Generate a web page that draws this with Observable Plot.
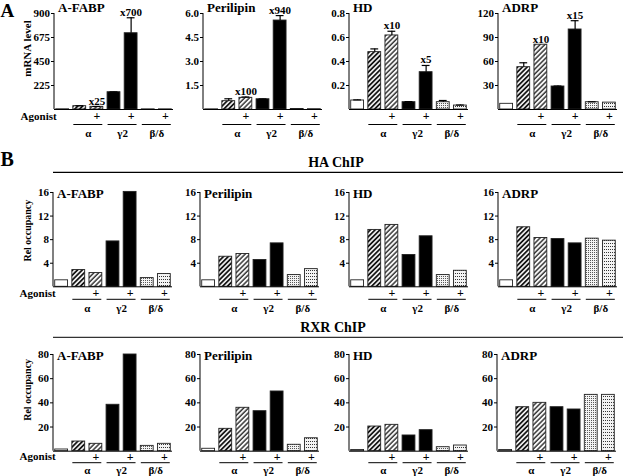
<!DOCTYPE html>
<html><head><meta charset="utf-8">
<script src="https://cdn.jsdelivr.net/npm/d3@7"></script>
<script src="https://cdn.jsdelivr.net/npm/@observablehq/plot@0.6"></script>
<style>
body{margin:0;background:white;}
#fig{position:relative;width:624px;height:476px;overflow:hidden;background:white;}
#fig svg{position:absolute;}
</style></head><body><div id="fig"></div>
<script>
// ---------- data ----------
const genes = ["A-FABP", "Perilipin", "HD", "ADRP"];
const bars = ["ctrl", "α", "α+", "γ2", "γ2+", "β/δ", "β/δ+"];
const agonist = ["", "", "+", "", "+", "", "+"];
const fills = ["ctrl", "hatch1", "hatch2", "black", "black", "dots1", "dots2"];
const groups = ["α", "γ2", "β/δ"];
const groupFirst = ["α", "γ2", "β/δ"];
const groupSecond = ["α+", "γ2+", "β/δ+"];
const panelLetters = ["A", "B"];
const rowTitles = ["HA ChIP", "RXR ChIP"];

// mRNA level (panel A)
const mrna = [
  [2, 31, 25, 162, 715, 1.5, 1.5],
  [0.01, 0.52, 0.73, 0.64, 5.56, 0.03, 0.02],
  [0.075, 0.478, 0.617, 0.061, 0.311, 0.061, 0.033],
  [7.1, 52.9, 81, 28.75, 100, 9.1, 8.6]
];
const mrnaErr = [
  [2, 35, 28, 165, 860, 1.5, 1.5],
  [0.01, 0.67, 0.78, 0.66, 5.87, 0.03, 0.02],
  [0.08, 0.505, 0.652, 0.066, 0.367, 0.075, 0.037],
  [7.1, 58.4, 81, 29.3, 111, 9.6, 8.6]
];
const foldLabels = [["x25", "x700"], ["x100", "x940"], ["x10", "x5"], ["x10", "x15"]];
const foldBars = ["α+", "γ2+"];
const mrnaMax = [900, 6, 0.8, 120];
const mrnaTicks = [[225, 450, 675, 900], [1.5, 3.0, 4.5, 6.0], [0.2, 0.4, 0.6, 0.8], [30, 60, 90, 120]];
const mrnaFormat = ["d", ".1f", ".1f", "d"];

// ChIP (panel B)
const haChip = [
  [1.1, 2.84, 2.33, 7.7, 16.1, 1.48, 2.16],
  [1.1, 5.1, 5.56, 4.54, 7.37, 1.99, 3.0],
  [1.1, 9.65, 10.5, 5.4, 8.57, 1.99, 2.72],
  [1.1, 10.1, 8.28, 8.1, 7.37, 8.17, 7.83]
];
const rxrChip = [
  [1.4, 8.0, 6.1, 38.4, 80, 4.4, 6.1],
  [2, 18.5, 35.9, 33.1, 49.4, 5.3, 10.7],
  [1, 20.4, 21.8, 13, 17.4, 3.3, 4.7],
  [1, 36.4, 40, 36.4, 34.5, 46.6, 46.6]
];
const haTicks = [4, 8, 12, 16];
const rxrTicks = [20, 40, 60, 80];

// ---------- drawing ----------
const fig = document.getElementById("fig");
const FONT = "'Liberation Serif','Times New Roman',serif";
let chartId = 0;

function patternDefs(k) {
  return () => {
    const d = d3.create("svg:defs");
    const hatch = (id, color, w) => {
      const p = d.append("pattern").attr("id", `p${k}-${id}`).attr("patternUnits", "userSpaceOnUse")
        .attr("width", 3.4).attr("height", 3.4).attr("patternTransform", "rotate(45)");
      p.append("rect").attr("width", 3.4).attr("height", 3.4).attr("fill", "white");
      p.append("line").attr("x1", 1).attr("x2", 1).attr("y1", 0).attr("y2", 3.4).attr("stroke", color).attr("stroke-width", w);
    };
    hatch("hatch1", "black", 1.7);
    hatch("hatch2", "#333", 1.5);
    const dots = (id, w, h, c) => {
      const p = d.append("pattern").attr("id", `p${k}-${id}`).attr("patternUnits", "userSpaceOnUse")
        .attr("width", w).attr("height", h);
      p.append("rect").attr("width", w).attr("height", h).attr("fill", "#f4f4f4");
      p.append("rect").attr("width", 1).attr("height", 1).attr("fill", c);
    };
    dots("dots1", 2, 2, "#555");
    dots("dots2", 2, 3, "#333");
    const s = d.append("pattern").attr("id", `p${k}-black`).attr("patternUnits", "userSpaceOnUse").attr("width", 4).attr("height", 4);
    s.append("rect").attr("width", 4).attr("height", 4).attr("fill", "black");
    const c = d.append("pattern").attr("id", `p${k}-ctrl`).attr("patternUnits", "userSpaceOnUse").attr("width", 4).attr("height", 4);
    c.append("rect").attr("width", 4).attr("height", 4).attr("fill", "white");
    return d.node();
  };
}

function panel(o) {
  const k = chartId++;
  const ML = 54, MR = 4, MT = 18, MB = 32;
  const innerW = 119;
  const innerH = o.baseY - o.topY;
  const step = innerW / (bars.length - 0.25 + 0.2);
  const data = bars.map((b, i) => ({
    bar: b, value: o.values[i], err: o.errs ? o.errs[i] : o.values[i],
    fill: `url(#p${k}-${fills[i]})`, agonist: agonist[i]
  }));
  const grp = groups.map((g, i) => ({group: g, b1: groupFirst[i], b2: groupSecond[i]}));
  const folds = o.folds ? o.folds.map((t, i) => {
    const d = data.find(e => e.bar === foldBars[i]);
    return {bar: foldBars[i], y: Math.max(d.value, d.err), label: t};
  }) : [];
  const marks = [
    patternDefs(k),
    Plot.barY(data, {x: "bar", y: "value", fill: "fill", stroke: "#222", strokeWidth: 0.9}),
    Plot.ruleX(data.filter(d => d.err > d.value), {x: "bar", y1: "value", y2: "err", stroke: "black", strokeWidth: 1.2}),
    Plot.tickY(data.filter(d => d.err > d.value), {x: "bar", y: "err", stroke: "black", strokeWidth: 1.2, insetLeft: 2.5, insetRight: 2.5}),
    Plot.ruleY([0], {stroke: "black", strokeWidth: 1}),
    (index, scales, values, dim) => d3.create("svg:line")
      .attr("x1", dim.marginLeft).attr("x2", dim.marginLeft)
      .attr("y1", scales.y(0)).attr("y2", scales.y(o.yMax))
      .attr("stroke", "black").attr("stroke-width", 1).node(),
    Plot.text([o.gene], {frameAnchor: "top-left", dx: 3.5, dy: o.titleDy, textAnchor: "start", lineAnchor: "bottom", fontSize: 13, fill: "black"}),
    Plot.text(folds, {x: "bar", y: "y", text: "label", dy: -2, lineAnchor: "bottom", fontSize: 11, fill: "black"}),
    Plot.text(data.filter(d => d.agonist), {x: "bar", text: "agonist", frameAnchor: "bottom", dy: o.plusDy, lineAnchor: "middle", fontSize: 12, fill: "black"}),
    Plot.ruleY(grp, {x1: "b1", x2: "b2", y: () => 0, dy: o.lineDy, stroke: "black", strokeWidth: 1, insetLeft: 0.5, insetRight: 0.5}),
    Plot.text(grp, {x: "b2", text: "group", frameAnchor: "bottom", dx: -step / 2, dy: o.groupDy, lineAnchor: "middle", fontSize: 11, fill: "black"})
  ];
  if (o.first) {
    marks.push(Plot.text(["Agonist"], {x: () => "ctrl", frameAnchor: "bottom", dx: -6, dy: o.plusDy, textAnchor: "end", lineAnchor: "middle", fontSize: 11, fill: "black"}));
    marks.push(Plot.text([o.ylabel], {frameAnchor: "left", rotate: -90, dx: o.ylabelDx, dy: o.ylabelDy, textAnchor: "middle", lineAnchor: "middle", fontSize: o.ylabelSize, fill: "black"}));
  }
  const svg = Plot.plot({
    width: ML + innerW + MR,
    height: MT + innerH + MB,
    marginLeft: ML, marginRight: MR, marginTop: MT, marginBottom: MB,
    style: `position:absolute;left:${o.axisX - ML}px;top:${o.topY - MT}px;overflow:visible;background:none;max-width:none;font-family:${FONT};font-weight:bold;font-size:11px;color:black;`,
    x: {type: "band", domain: bars, paddingInner: 0.25, paddingOuter: 0.1, round: false, axis: null},
    y: {domain: [0, o.yMax], ticks: o.ticks, tickFormat: d3.format(o.fmt), tickSize: 3, tickPadding: 1.5, label: null},
    color: {type: "identity"},
    marks
  });
  fig.appendChild(svg);
}

const rowA = {axisX: [54, 203, 349, 498], topY: 13, baseY: 109, titleDy: -1.5, plusDy: 7, lineDy: 15, groupDy: 24};
const rowHA = {axisX: [53, 200, 349, 498], topY: 191.7, baseY: 286, titleDy: 5.5, plusDy: 6.5, lineDy: 12.5, groupDy: 22};
const rowRXR = {axisX: [53, 200, 349, 497], topY: 354, baseY: 450.7, titleDy: 6, plusDy: 5.5, lineDy: 11.5, groupDy: 19.5};

genes.forEach((g, i) => {
  panel({...rowA, axisX: rowA.axisX[i], gene: g, values: mrna[i], errs: mrnaErr[i], folds: foldLabels[i],
    yMax: mrnaMax[i], ticks: mrnaTicks[i], fmt: mrnaFormat[i], first: i === 0,
    ylabel: "mRNA level", ylabelDx: -27, ylabelDy: -13, ylabelSize: 11});
  panel({...rowHA, axisX: rowHA.axisX[i], gene: g, values: haChip[i], yMax: 16, ticks: haTicks, fmt: "d", first: i === 0,
    ylabel: "Rel occupancy", ylabelDx: -26, ylabelDy: -9, ylabelSize: 10});
  panel({...rowRXR, axisX: rowRXR.axisX[i], gene: g, values: rxrChip[i], yMax: 80, ticks: rxrTicks, fmt: "d", first: i === 0,
    ylabel: "Rel occupancy", ylabelDx: -26, ylabelDy: -13, ylabelSize: 10});
});

// overlay: panel letters, section titles and rules
const ov = d3.select(fig).append("svg").attr("width", 624).attr("height", 476)
  .style("left", "0px").style("top", "0px")
  .attr("font-family", FONT).attr("font-weight", "bold");
ov.append("text").attr("x", 0.5).attr("y", 17).attr("font-size", 19).text(panelLetters[0]);
ov.append("text").attr("x", 0.5).attr("y", 166).attr("font-size", 20).text(panelLetters[1]);
ov.append("text").attr("x", 336).attr("y", 166.5).attr("font-size", 14).attr("text-anchor", "middle").text(rowTitles[0]);
ov.append("line").attr("x1", 53).attr("x2", 623).attr("y1", 172.3).attr("y2", 172.3).attr("stroke", "black").attr("stroke-width", 1.2);
ov.append("text").attr("x", 333).attr("y", 332).attr("font-size", 14).attr("text-anchor", "middle").text(rowTitles[1]);
ov.append("line").attr("x1", 53).attr("x2", 623).attr("y1", 337.3).attr("y2", 337.3).attr("stroke", "#333").attr("stroke-width", 1.2);
</script></body></html>
